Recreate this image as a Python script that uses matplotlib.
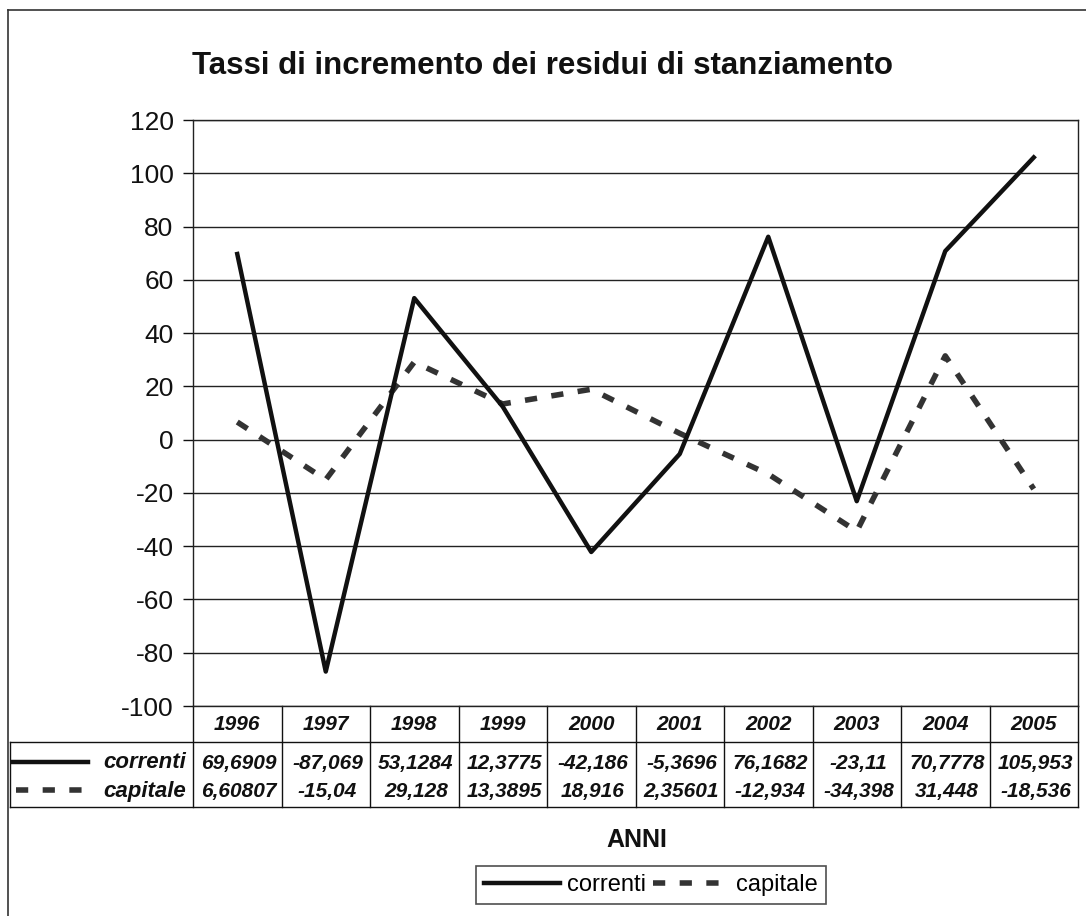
import matplotlib
matplotlib.use("Agg")
import matplotlib.pyplot as plt
import numpy as np
from matplotlib.lines import Line2D
from matplotlib.transforms import blended_transform_factory

plt.rcParams['font.family'] = ['Liberation Sans', 'DejaVu Sans']
plt.rcParams['axes.unicode_minus'] = False

# data
anni = ['1996', '1997', '1998', '1999', '2000', '2001', '2002', '2003', '2004', '2005']
correnti = [69.6909, -87.069, 53.1284, 12.3775, -42.186, -5.3696, 76.1682, -23.11, 70.7778, 105.953]
capitale = [6.60807, -15.04, 29.128, 13.3895, 18.916, 2.35601, -12.934, -34.398, 31.448, -18.536]
correnti_txt = ['69,6909', '-87,069', '53,1284', '12,3775', '-42,186', '-5,3696', '76,1682', '-23,11', '70,7778', '105,953']
capitale_txt = ['6,60807', '-15,04', '29,128', '13,3895', '18,916', '2,35601', '-12,934', '-34,398', '31,448', '-18,536']

W, H = 1086, 916
fig = plt.figure(figsize=(W / 100, H / 100), dpi=100)
ax = fig.add_axes([193 / W, 1 - 706 / H, 885 / W, 586 / H])

x = np.arange(len(anni))
dash_style = dict(color='#333333', linewidth=4.0, dashes=(2.2, 2.6), solid_capstyle='butt')
line_style = dict(color='#111111', linewidth=3.2)

ax.plot(x, capitale, **dash_style)
ax.plot(x, correnti, **line_style)

ax.set_xlim(-0.5, len(anni) - 0.5)
ax.set_ylim(-100, 120)
ax.set_yticks(np.arange(-100, 121, 20))
ax.set_xticks([])
ax.yaxis.grid(True, color='#222222', linewidth=1.0)
ax.set_axisbelow(True)
ax.tick_params(axis='y', labelsize=19, length=7, width=1, pad=7, colors='#111111')
for s in ax.spines.values():
    s.set_color('#222222')
    s.set_linewidth(1.0)

# data table under the plot
tr = blended_transform_factory(ax.transData, ax.transAxes)
px = lambda p: -0.5 + (p - 193) / 88.5   # pixel column -> category units
y_head = -36 / 586
y_bot = -101 / 586
x_left = px(10)
tcol = '#111111'

def hline(x0, x1, y):
    ax.add_line(Line2D([x0, x1], [y, y], transform=tr, color=tcol, lw=1.0, clip_on=False))

def vline(xx, y0, y1):
    ax.add_line(Line2D([xx, xx], [y0, y1], transform=tr, color=tcol, lw=1.0, clip_on=False))

hline(x_left, len(anni) - 0.5, y_head)
hline(x_left, len(anni) - 0.5, y_bot)
vline(x_left, y_head, y_bot)
for i in range(len(anni) + 1):
    vline(i - 0.5, 0, y_bot)

cell_font = dict(fontsize=15, fontweight='bold', fontstyle='italic', color='#111111',
                 ha='center', va='center', transform=tr, clip_on=False)
for i, yr in enumerate(anni):
    ax.text(i, -18 / 586, yr, **cell_font)
    ax.text(i + 0.02, -57 / 586, correnti_txt[i], **cell_font)
    ax.text(i + 0.02, -86 / 586, capitale_txt[i], **cell_font)

lab_font = dict(cell_font, ha='right', fontsize=16)
ax.text(px(186), -57 / 586, 'correnti', **lab_font)
ax.text(px(186), -86 / 586, 'capitale', **lab_font)
ax.add_line(Line2D([px(13), px(88)], [-56 / 586] * 2, transform=tr, clip_on=False, **line_style))
ax.add_line(Line2D([px(16), px(90)], [-84 / 586] * 2, transform=tr, clip_on=False, **dash_style))

# axis title and legend
fig.text(637 / W, 1 - 840 / H, 'ANNI', fontsize=18, fontweight='bold', ha='center', va='center',
         color='#111111')
handles = [Line2D([], [], **line_style), Line2D([], [], **dash_style)]
leg = fig.legend(handles, ['correnti', 'capitale'], loc='center', ncol=2,
                 bbox_to_anchor=(651 / W, 1 - 885 / H), fontsize=17, frameon=True,
                 fancybox=False, handlelength=3.2, handletextpad=0.3, columnspacing=0.3,
                 borderpad=0.35, borderaxespad=0)
leg.get_frame().set_edgecolor('#222222')
leg.get_frame().set_linewidth(1.2)

# title
fig.text(543 / W, 1 - 66 / H, 'Tassi di incremento dei residui di stanziamento',
         fontsize=22.5, fontweight='bold', ha='center', va='center', color='#111111')

# outer chart frame (only left and top visible)
fig.add_artist(Line2D([8 / W, 8 / W], [0, 1 - 10 / H], transform=fig.transFigure,
                      color='#333333', lw=1.2))
fig.add_artist(Line2D([8 / W, 1], [1 - 10 / H, 1 - 10 / H], transform=fig.transFigure,
                      color='#333333', lw=1.2))

fig.savefig('out.png', dpi=100)
